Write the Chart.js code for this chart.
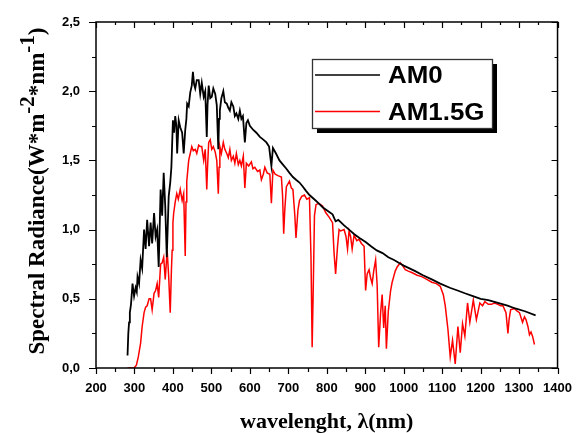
<!DOCTYPE html>
<html>
<head>
<meta charset="utf-8">
<script src="https://cdn.jsdelivr.net/npm/chart.js@4"></script>
<style>
html,body{margin:0;padding:0;background:#fff;}
canvas{display:block;}
</style>
</head>
<body>
<canvas id="c" width="577" height="433"></canvas>
<script>
// ---- data ----
const am0Wavelength = [282,284,286,288,291,295,299,303,306,308,312,316,320,325,329,333,338,342,346,351,355,359,363,368,372,376,380,384,389,393,396,400,403,406,409,411,415,419,424,428,432,435,437,441,445,449,452,455,458,462,467,471,475,480,484,488,490,493,497,501,505,510,514,518,520,522,526,531,535,540,544,548,552,557,561,565,570,574,578,582,587,591,595,600,609,617,626,635,643,650,656,660,668,677,686,695,703,712,720,729,738,746,755,763,771,779,790,800,815,823,830,845,858,870,885,901,915,930,945,960,975,987,1000,1015,1030,1050,1073,1095,1120,1140,1159,1180,1200,1220,1245,1270,1290,1315,1343];
const am0Values = [0.09,0.25,0.33,0.40,0.46,0.61,0.52,0.58,0.55,0.66,0.61,0.78,0.72,1.00,0.86,1.07,0.88,1.05,0.90,1.12,0.95,1.00,0.73,1.29,1.10,1.41,1.17,0.80,1.24,1.34,1.45,1.79,1.70,1.82,1.75,1.55,1.79,1.74,1.70,1.55,1.72,1.80,1.91,1.89,1.99,2.04,2.14,2.05,2.02,2.08,2.08,1.98,2.06,1.96,2.00,1.67,1.90,2.04,1.95,1.96,2.02,1.98,1.90,1.58,1.80,1.86,1.95,2.00,1.92,1.91,1.88,1.86,1.92,1.89,1.82,1.84,1.80,1.86,1.80,1.82,1.63,1.77,1.79,1.75,1.72,1.70,1.67,1.65,1.63,1.60,1.46,1.59,1.55,1.50,1.47,1.44,1.41,1.38,1.36,1.34,1.31,1.28,1.25,1.23,1.21,1.19,1.16,1.14,1.11,1.06,1.07,1.03,1.00,0.97,0.94,0.91,0.88,0.85,0.83,0.80,0.78,0.76,0.74,0.72,0.70,0.67,0.64,0.61,0.58,0.56,0.54,0.52,0.50,0.49,0.47,0.45,0.43,0.41,0.38];

const am15Wavelength = [282,299,305,310,316,320,325,329,333,338,342,346,351,355,359,363,368,372,376,380,385,389,393,396,398,400,402,406,410,414,419,424,428,432,434,436,441,445,449,453,458,462,467,471,475,480,484,488,490,493,497,501,505,510,514,518,520,522,526,531,535,540,544,548,552,557,561,565,570,574,578,583,587,591,597,604,608,613,620,626,630,635,639,645,652,656,660,666,673,682,685,688,691,695,703,708,712,717,720,725,729,735,742,748,755,759,762,765,768,772,779,789,798,806,815,819,823,828,832,836,845,850,854,858,862,866,871,878,884,890,897,901,905,910,914,918,922,927,931,935,940,944,948,952,955,960,966,970,974,978,983,991,997,1004,1012,1021,1035,1047,1060,1073,1085,1095,1103,1108,1115,1121,1127,1134,1141,1147,1153,1159,1166,1172,1181,1189,1198,1205,1211,1220,1228,1236,1245,1252,1258,1266,1271,1274,1278,1288,1295,1301,1309,1314,1318,1323,1327,1331,1335,1340];
const am15Values = [0.00,0.00,0.02,0.08,0.18,0.30,0.40,0.44,0.45,0.50,0.50,0.42,0.54,0.56,0.61,0.51,0.75,0.76,0.80,0.64,0.85,0.66,0.40,0.70,0.85,1.05,1.12,1.20,1.26,1.22,1.29,1.21,1.26,0.81,1.20,1.35,1.50,1.55,1.60,1.57,1.58,1.55,1.61,1.60,1.60,1.50,1.58,1.29,1.45,1.63,1.65,1.58,1.60,1.56,1.50,1.26,1.45,1.60,1.55,1.63,1.58,1.55,1.52,1.58,1.50,1.53,1.48,1.55,1.47,1.50,1.46,1.53,1.30,1.48,1.46,1.49,1.44,1.45,1.42,1.43,1.36,1.40,1.45,1.41,1.40,1.19,1.43,1.40,1.39,1.38,1.25,0.97,1.15,1.31,1.35,1.30,1.29,1.10,0.94,1.14,1.21,1.24,1.25,1.22,1.23,0.80,0.15,0.60,1.10,1.18,1.19,1.17,1.12,1.09,1.05,0.83,0.68,0.88,1.00,0.99,1.00,0.95,0.86,0.99,0.95,0.86,0.96,0.92,0.93,0.90,0.88,0.56,0.68,0.71,0.65,0.61,0.70,0.78,0.60,0.15,0.40,0.53,0.29,0.45,0.14,0.41,0.56,0.62,0.66,0.70,0.73,0.76,0.74,0.71,0.70,0.69,0.67,0.66,0.64,0.62,0.61,0.59,0.53,0.45,0.28,0.08,0.20,0.03,0.30,0.11,0.32,0.23,0.47,0.33,0.49,0.35,0.47,0.45,0.48,0.46,0.46,0.47,0.46,0.45,0.45,0.40,0.25,0.35,0.42,0.43,0.41,0.40,0.33,0.37,0.35,0.30,0.24,0.26,0.23,0.17];

const seriesLabels = ['AM0', 'AM1.5G'];
const xTickValues = [200,300,400,500,600,700,800,900,1000,1100,1200,1300,1400];
const yTickLabels = ['0,0','0,5','1,0','1,5','2,0','2,5'];
const xTitle = 'wavelenght, \u03bb(nm)';
const yTitleParts = [['Spectral Radiance(W*m', false], ['-2', true], ['*nm', false], ['-1', true], [')', false]];

// ---- helpers ----
function toPoints(xs, ys) { return xs.map((x, i) => ({x: x, y: ys[i]})); }

const framePlugin = {
  id: 'frame',
  afterDraw(chart) {
    const ctx = chart.ctx, a = chart.chartArea;
    const xs = chart.scales.x, ys = chart.scales.y;
    ctx.save();
    ctx.strokeStyle = '#000';
    ctx.lineWidth = 1.5;
    ctx.strokeRect(a.left, a.top, a.right - a.left, a.bottom - a.top);
    ctx.lineWidth = 1.2;
    ctx.beginPath();
    for (let v = xs.min; v <= xs.max + 0.001; v += 50) {
      const major = Math.abs(v % 100) < 0.001;
      const px = Math.round(xs.getPixelForValue(v)) + 0.5;
      ctx.moveTo(px, a.bottom); ctx.lineTo(px, a.bottom + (major ? 6 : 4));
      ctx.moveTo(px, a.top); ctx.lineTo(px, a.top + (major ? 6 : 3));
    }
    for (let v = 0; v <= 2.5 + 0.001; v += 0.25) {
      const major = Math.abs((v / 0.5) - Math.round(v / 0.5)) < 0.001;
      const py = Math.round(ys.getPixelForValue(v)) + 0.5;
      ctx.moveTo(a.left, py); ctx.lineTo(a.left - (major ? 7 : 4), py);
      ctx.moveTo(a.right, py); ctx.lineTo(a.right - (major ? 6 : 3), py);
    }
    ctx.stroke();

    // y axis title with superscripts
    ctx.fillStyle = '#000';
    ctx.textBaseline = 'alphabetic';
    const mainFont = 'bold 23px "Liberation Serif", "Times New Roman", serif';
    const supFont = 'bold 21px "Liberation Serif", "Times New Roman", serif';
    let total = 0;
    const widths = yTitleParts.map(p => { ctx.font = p[1] ? supFont : mainFont; const w = ctx.measureText(p[0]).width; total += w; return w; });
    ctx.translate(44, 191);
    ctx.rotate(-Math.PI / 2);
    let cx = -total / 2;
    yTitleParts.forEach((p, i) => {
      ctx.font = p[1] ? supFont : mainFont;
      ctx.fillText(p[0], cx, p[1] ? -10 : 0);
      cx += widths[i];
    });
    ctx.restore();

    // legend box
    ctx.save();
    const bx = 312, by = 59, bw = 180, bh = 69;
    ctx.fillStyle = '#000';
    ctx.fillRect(bx + 5, by + 5, bw, bh);
    ctx.fillStyle = '#fff';
    ctx.fillRect(bx, by, bw, bh);
    ctx.strokeStyle = '#333';
    ctx.lineWidth = 1.3;
    ctx.strokeRect(bx + 0.5, by + 0.5, bw, bh);
    const rows = [75, 111.5];
    chart.data.datasets.forEach((ds, i) => {
      ctx.strokeStyle = ds.borderColor;
      ctx.lineWidth = 1.3;
      ctx.beginPath();
      ctx.moveTo(315, rows[i]); ctx.lineTo(380, rows[i]);
      ctx.stroke();
      ctx.save();
      ctx.translate(388, rows[i] + 1.5);
      ctx.scale(1.08, 1);
      ctx.fillStyle = '#000';
      ctx.font = 'bold 24px "Liberation Sans", Arial, sans-serif';
      ctx.textBaseline = 'middle';
      ctx.fillText(ds.label, 0, 0);
      ctx.restore();
    });
    ctx.restore();
  }
};

new Chart(document.getElementById('c'), {
  type: 'line',
  data: {
    datasets: [
      { label: seriesLabels[0], data: toPoints(am0Wavelength, am0Values), borderColor: '#000000', borderWidth: 1.8, pointRadius: 0, tension: 0, fill: false },
      { label: seriesLabels[1], data: toPoints(am15Wavelength, am15Values), borderColor: '#ff0000', borderWidth: 1.5, pointRadius: 0, tension: 0, fill: false }
    ]
  },
  options: {
    responsive: false,
    animation: false,
    devicePixelRatio: 1,
    layout: { padding: { left: 0, top: 22, right: 16, bottom: 0 } },
    plugins: { legend: { display: false }, tooltip: { enabled: false } },
    scales: {
      x: {
        type: 'linear', min: 200, max: 1400,
        afterFit(s) { s.height = 65; },
        afterBuildTicks(s) { s.ticks = xTickValues.map(v => ({value: v})); },
        grid: { display: false },
        border: { display: false },
        ticks: { autoSkip: false, maxRotation: 0, padding: 5, color: '#000',
          font: { family: '"Liberation Sans", Arial, sans-serif', size: 13, weight: 'bold' },
          callback: v => String(v) },
        title: { display: true, text: xTitle, color: '#000', padding: { top: 0, bottom: 0 },
          font: { family: '"Liberation Serif", "Times New Roman", serif', size: 22, weight: 'bold', lineHeight: 1.0 } }
      },
      y: {
        type: 'linear', min: 0, max: 2.5,
        afterFit(s) { s.width = 96; },
        afterBuildTicks(s) { s.ticks = yTickLabels.map((t, i) => ({value: i * 0.5})); },
        grid: { display: false },
        border: { display: false },
        ticks: { autoSkip: false, padding: 8, color: '#000',
          font: { family: '"Liberation Sans", Arial, sans-serif', size: 13, weight: 'bold' },
          callback: (v, i) => yTickLabels[i] }
      }
    }
  },
  plugins: [framePlugin]
});
</script>
</body>
</html>
